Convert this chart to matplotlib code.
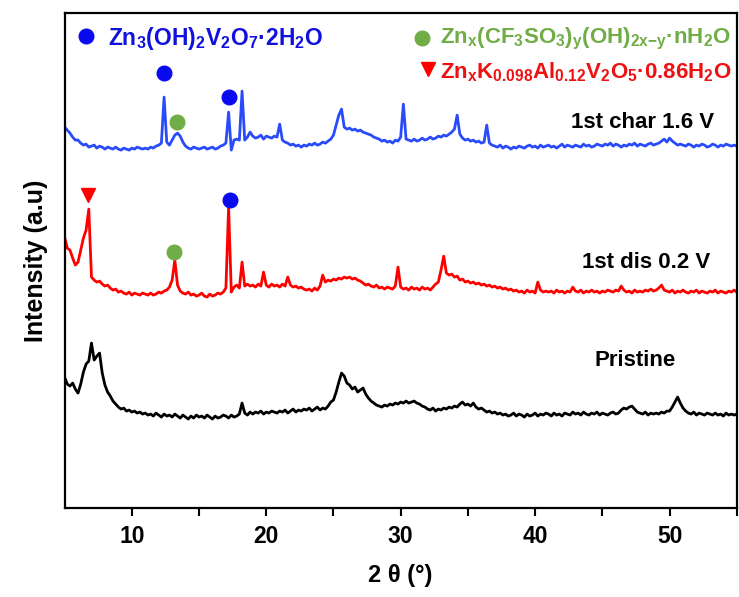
import numpy as np
import matplotlib
matplotlib.use("Agg")
import matplotlib.pyplot as plt

plt.rcParams['font.family'] = ['Liberation Sans', 'DejaVu Sans']
plt.rcParams['font.weight'] = 'bold'
plt.rcParams['mathtext.fontset'] = 'custom'
plt.rcParams['mathtext.rm'] = 'Liberation Sans:bold'
plt.rcParams['mathtext.it'] = 'Liberation Sans:bold'
plt.rcParams['mathtext.bf'] = 'Liberation Sans:bold'

# 2-theta sampling grid (degrees), 0.2 deg step from 5 to 55
two_theta = np.linspace(5.0, 55.0, 251)

pristine = [
    57, 50, 48, 51, 45, 41, 50, 62, 70, 73,
    91, 74, 78, 81, 61, 49, 42, 38, 33, 30,
    27, 25, 26, 23, 24, 22, 23, 21, 22, 20,
    21, 19, 20, 18, 21, 19, 17, 20, 18, 19,
    17, 20, 18, 16, 19, 17, 15, 18, 16, 19,
    17, 18, 16, 19, 17, 15, 18, 16, 17, 19,
    18, 16, 19, 17, 18, 20, 31, 21, 19, 22,
    20, 22, 21, 23, 20, 22, 21, 23, 22, 21,
    23, 22, 24, 21, 23, 25, 22, 24, 23, 25,
    24, 26, 23, 25, 27, 24, 26, 25, 28, 32,
    34, 42, 52, 61, 58, 51, 49, 45, 47, 42,
    44, 46, 40, 36, 33, 31, 29, 28, 27, 29,
    28, 30, 29, 31, 30, 32, 31, 33, 31, 32,
    33, 31, 30, 28, 27, 25, 24, 26, 23, 25,
    24, 26, 25, 27, 26, 28, 27, 30, 32, 29,
    30, 28, 31, 27, 25, 26, 24, 22, 23, 21,
    22, 20, 21, 19, 20, 18, 19, 21, 18, 20,
    19, 17, 20, 18, 19, 21, 18, 20, 19, 21,
    20, 18, 21, 19, 20, 18, 21, 20, 19, 22,
    20, 21, 19, 22, 20, 19, 21, 20, 22, 19,
    21, 20, 19, 21, 22, 20, 21, 24, 26, 25,
    27, 28, 25, 22, 21, 20, 22, 19, 21, 20,
    21, 20, 22, 21, 23, 23, 27, 32, 37, 31,
    26, 23, 21, 20, 22, 19, 21, 20, 19, 21,
    20, 19, 21, 19, 20, 18, 21, 19, 20, 19,
    20,
]

dis_02V = [
    75, 64, 62, 54, 47, 50, 62, 74, 82, 103,
    35, 32, 30, 31, 28, 26, 27, 24, 22, 23,
    20, 21, 19, 18, 20, 17, 19, 18, 17, 19,
    18, 17, 19, 17, 18, 20, 19, 21, 22, 25,
    32, 52, 27, 21, 19, 18, 20, 17, 18, 16,
    17, 19, 16, 15, 18, 16, 17, 19, 18, 20,
    24, 105, 20, 25, 27, 24, 50, 26, 28, 26,
    27, 25, 28, 26, 40, 27, 25, 28, 26, 27,
    25, 28, 26, 35, 27, 25, 26, 24, 25, 23,
    22, 23, 21, 24, 22, 26, 37, 30, 32, 31,
    33, 32, 34, 33, 35, 34, 35, 33, 34, 32,
    31, 29, 27, 28, 26, 25, 27, 24, 25, 23,
    25, 24, 23, 26, 45, 25, 23, 24, 22, 25,
    23, 24, 22, 25, 23, 24, 22, 25, 28, 30,
    42, 56, 39, 37, 38, 35, 36, 32, 33, 30,
    31, 29, 30, 28, 29, 27, 28, 26, 27, 25,
    26, 24, 25, 23, 24, 22, 23, 21, 22, 20,
    21, 19, 22, 20, 21, 19, 30, 22, 20, 21,
    20, 21, 19, 22, 20, 21, 19, 21, 20, 25,
    21, 20, 22, 19, 21, 20, 22, 20, 21, 19,
    21, 20, 22, 21, 20, 22, 21, 26, 22, 20,
    21, 19, 22, 20, 21, 20, 22, 21, 23, 21,
    22, 24, 27, 22, 21, 20, 22, 19, 21, 20,
    22, 20, 19, 21, 20, 22, 19, 21, 20, 19,
    21, 20, 22, 19, 21, 20, 19, 21, 20, 22,
    20,
]

char_16V = [
    40, 37, 34, 30, 27, 27, 24, 22, 23, 20,
    21, 22, 19, 21, 20, 18, 20, 19, 18, 20,
    18, 17, 19, 18, 17, 19, 18, 20, 19, 18,
    19, 18, 20, 19, 21, 22, 24, 70, 25, 22,
    27, 32, 34, 31, 25, 21, 19, 18, 20, 19,
    18, 19, 20, 18, 19, 20, 18, 19, 21, 22,
    24, 55, 17, 27, 28, 27, 76, 27, 30, 35,
    31, 29, 30, 32, 28, 31, 30, 29, 31, 30,
    43, 27, 25, 24, 22, 23, 21, 22, 20, 22,
    21, 23, 22, 24, 22, 23, 25, 24, 26, 28,
    32, 42, 52, 58, 40, 38, 39, 37, 38, 36,
    37, 35, 34, 33, 32, 30, 29, 28, 26, 27,
    25, 26, 24, 27, 26, 30, 63, 28, 27, 26,
    28, 26, 27, 29, 27, 28, 30, 28, 29, 31,
    30, 32, 31, 33, 35, 38, 52, 33, 29, 27,
    28, 26, 27, 25, 26, 24, 25, 42, 24, 22,
    21, 20, 22, 19, 21, 20, 18, 20, 19, 21,
    20, 19, 21, 22, 20, 21, 19, 22, 20, 21,
    22, 20, 21, 19, 21, 23, 20, 22, 21, 20,
    22, 21, 20, 23, 21, 22, 20, 21, 23, 22,
    21, 23, 22, 24, 21, 23, 22, 20, 22, 21,
    23, 22, 24, 21, 23, 22, 21, 23, 24, 22,
    23, 24, 26, 28, 25, 29, 26, 24, 22, 23,
    22, 21, 23, 22, 20, 22, 21, 23, 22, 20,
    21, 23, 22, 20, 22, 21, 23, 22, 21, 22,
    21,
]

series_labels = ["Pristine", "1st dis 0.2 V", "1st char 1.6 V"]

# phase marker peak positions (2theta)
zvo_char = [12.42, 17.25]       # Zn3(OH)2V2O7.2H2O on charged
zcf_char = [13.39]              # Znx(CF3SO3)y(OH)2x-y.nH2O on charged
zkav_dis = [6.75]               # ZnxK..V2O5 on discharged
zcf_dis = [13.17]
zvo_dis = [17.32]

# ---- figure ----
fig = plt.figure(figsize=(7.39, 5.97), dpi=100)
ax = fig.add_axes([0.0874, 0.149, 0.9096, 0.829])

offsets = {"Pristine": 74, "1st dis 0.2 V": 196, "1st char 1.6 V": 341}
colors = {"Pristine": "#000000", "1st dis 0.2 V": "#FF0000", "1st char 1.6 V": "#2A4BFA"}
data = {"Pristine": pristine, "1st dis 0.2 V": dis_02V, "1st char 1.6 V": char_16V}

for lab in series_labels:
    ax.plot(two_theta, np.array(data[lab]) + offsets[lab], color=colors[lab], lw=2.0)

blue_dot = "#0A0AEE"
green_dot = "#70AD47"
red_tri = "#FF0000"
ms_dot = 10.5

ax.plot(zvo_char, [435, 411], 'o', color=blue_dot, ms=ms_dot)
ax.plot(zcf_char, [386], 'o', color=green_dot, ms=ms_dot)
ax.plot(zkav_dis, [313], 'v', color=red_tri, ms=ms_dot)
ax.plot(zcf_dis, [256], 'o', color=green_dot, ms=ms_dot)
ax.plot(zvo_dis, [308], 'o', color=blue_dot, ms=ms_dot)

# legend-like annotations
ax.plot([6.6], [472], 'o', color=blue_dot, ms=ms_dot)
ax.plot([31.55], [470], 'o', color=green_dot, ms=ms_dot)
ax.plot([32.0], [439], 'v', color=red_tri, ms=ms_dot)

ax.text(8.22, 470, r'$\mathrm{Zn_3(OH)_2V_2O_7·2H_2O}$', color="#1111DD",
        fontsize=16.5, va='center', ha='left')
ax.text(32.95, 469, r'$\mathrm{Zn_x(CF_3SO_3)_y(OH)_{2x{-}y}·nH_2O}$', color=green_dot,
        fontsize=16.0, va='center', ha='left')
ax.text(32.95, 436, r'$\mathrm{Zn_xK_{0.098}Al_{0.12}V_2O_5·0.86H_2O}$', color="#EE1111",
        fontsize=16.0, va='center', ha='left')

ax.text(42.7, 386, series_labels[2], fontsize=16, fontweight='bold', va='center', ha='left')
ax.text(43.5, 246, series_labels[1], fontsize=16, fontweight='bold', va='center', ha='left')
ax.text(44.4, 148, series_labels[0], fontsize=16, fontweight='bold', va='center', ha='left')

ax.set_xlim(5, 55)
ax.set_ylim(0, 495)
ax.set_xticks([10, 20, 30, 40, 50])
ax.set_xticks([15, 25, 35, 45, 55], minor=True)
ax.set_yticks([])
ax.tick_params(axis='x', which='both', direction='out', length=6, width=1.5,
               labelsize=16.5, pad=6)
for t in ax.get_xticklabels():
    t.set_fontweight('bold')
for s in ax.spines.values():
    s.set_linewidth(1.6)

ax.set_xlabel('2 θ (°)', fontsize=17, fontweight='bold', labelpad=12)
ax.set_ylabel('Intensity (a.u)', fontsize=18, fontweight='bold', labelpad=12)

fig.savefig("out.png", dpi=100)
